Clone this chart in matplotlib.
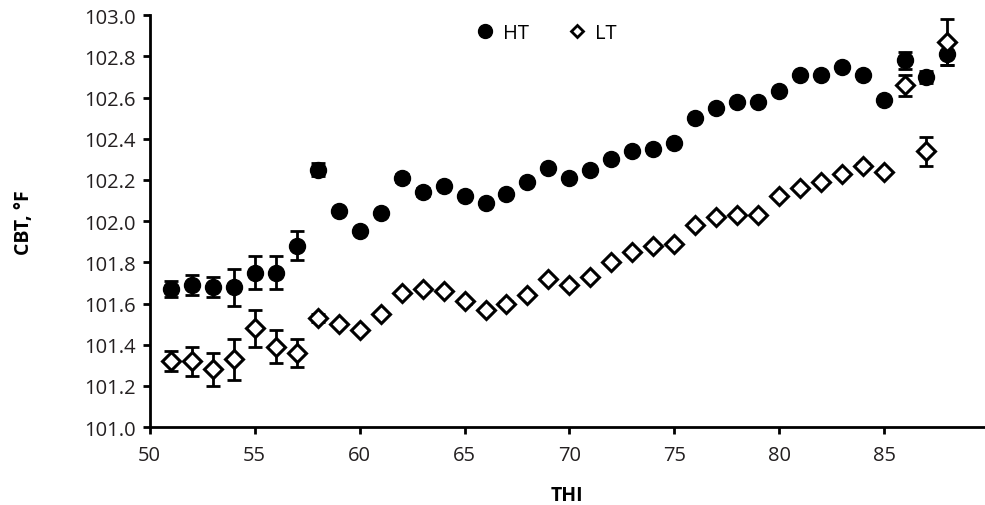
import matplotlib.pyplot as plt
from matplotlib.lines import Line2D

plt.rcParams['font.family'] = ['Open Sans', 'DejaVu Sans']

# --- Data ---
thi = list(range(51, 89))

ht = [101.67, 101.69, 101.68, 101.68, 101.75, 101.75, 101.88, 102.25, 102.05, 101.95,
      102.04, 102.21, 102.14, 102.17, 102.12, 102.09, 102.13, 102.19, 102.26, 102.21,
      102.25, 102.30, 102.34, 102.35, 102.38, 102.50, 102.55, 102.58, 102.58, 102.63,
      102.71, 102.71, 102.75, 102.71, 102.59, 102.78, 102.70, 102.81]
ht_err = [0.04, 0.05, 0.05, 0.09, 0.08, 0.08, 0.07, 0.03, 0.01, 0.01,
          0.01, 0.02, 0.02, 0.01, 0.01, 0.01, 0.01, 0.01, 0.01, 0.01,
          0.01, 0.01, 0.01, 0.01, 0.01, 0.01, 0.01, 0.01, 0.01, 0.01,
          0.01, 0.01, 0.01, 0.01, 0.01, 0.04, 0.03, 0.05]

lt = [101.32, 101.32, 101.28, 101.33, 101.48, 101.39, 101.36, 101.53, 101.50, 101.47,
      101.55, 101.65, 101.67, 101.66, 101.61, 101.57, 101.60, 101.64, 101.72, 101.69,
      101.73, 101.80, 101.85, 101.88, 101.89, 101.98, 102.02, 102.03, 102.03, 102.12,
      102.16, 102.19, 102.23, 102.27, 102.24, 102.66, 102.34, 102.87]
lt_err = [0.05, 0.07, 0.08, 0.10, 0.09, 0.08, 0.07, 0.02, 0.01, 0.01,
          0.01, 0.01, 0.01, 0.01, 0.01, 0.01, 0.01, 0.01, 0.01, 0.01,
          0.01, 0.01, 0.01, 0.01, 0.01, 0.01, 0.01, 0.01, 0.01, 0.01,
          0.01, 0.01, 0.01, 0.01, 0.01, 0.05, 0.07, 0.11]

fig = plt.figure(figsize=(9.85, 5.06), dpi=100)
ax = fig.add_axes([0.152, 0.154, 0.848, 0.814])

# error bars first so the markers sit on top of them
ax.errorbar(thi, ht, yerr=ht_err, fmt='none', ecolor='black', elinewidth=2,
            capsize=4.8, capthick=2, zorder=2)
ax.errorbar(thi, lt, yerr=lt_err, fmt='none', ecolor='black', elinewidth=2,
            capsize=4.8, capthick=2, zorder=2)
ax.plot(thi, ht, 'o', color='black', markersize=11.5, linestyle='none', zorder=3)
ax.plot(thi, lt, 'D', color='black', markerfacecolor='white', markeredgewidth=2.2,
        markersize=9, linestyle='none', zorder=4)

ax.set_xlim(50, 89.8)
ax.set_ylim(101.0, 103.0)
ax.set_xticks(range(50, 90, 5))
ax.set_yticks([101.0 + 0.2 * i for i in range(11)])
ax.set_yticklabels([f'{101.0 + 0.2 * i:.1f}' for i in range(11)])

for s in ['top', 'right']:
    ax.spines[s].set_visible(False)
for s in ['left', 'bottom']:
    ax.spines[s].set_linewidth(2)
ax.tick_params(axis='both', direction='out', length=5, width=2, labelsize=14.5,
               colors='black', labelcolor='#231f20')
ax.tick_params(axis='y', pad=5)
ax.tick_params(axis='x', pad=8)

ax.set_xlabel('THI', fontsize=14, fontweight='bold', labelpad=14)
ax.set_ylabel('CBT, °F', fontsize=14, fontweight='bold', labelpad=36)

handles = [
    Line2D([], [], marker='o', color='black', linestyle='none', markersize=10),
    Line2D([], [], marker='D', color='black', markerfacecolor='white',
           markeredgewidth=2, linestyle='none', markersize=6.5),
]
ax.legend(handles, ['HT', 'LT'], loc='upper center', bbox_to_anchor=(0.474, 1.025),
          ncol=2, frameon=False, fontsize=14.5, handletextpad=0.4, columnspacing=1.9,
          handlelength=1.0)

fig.savefig('out.png', dpi=100)
